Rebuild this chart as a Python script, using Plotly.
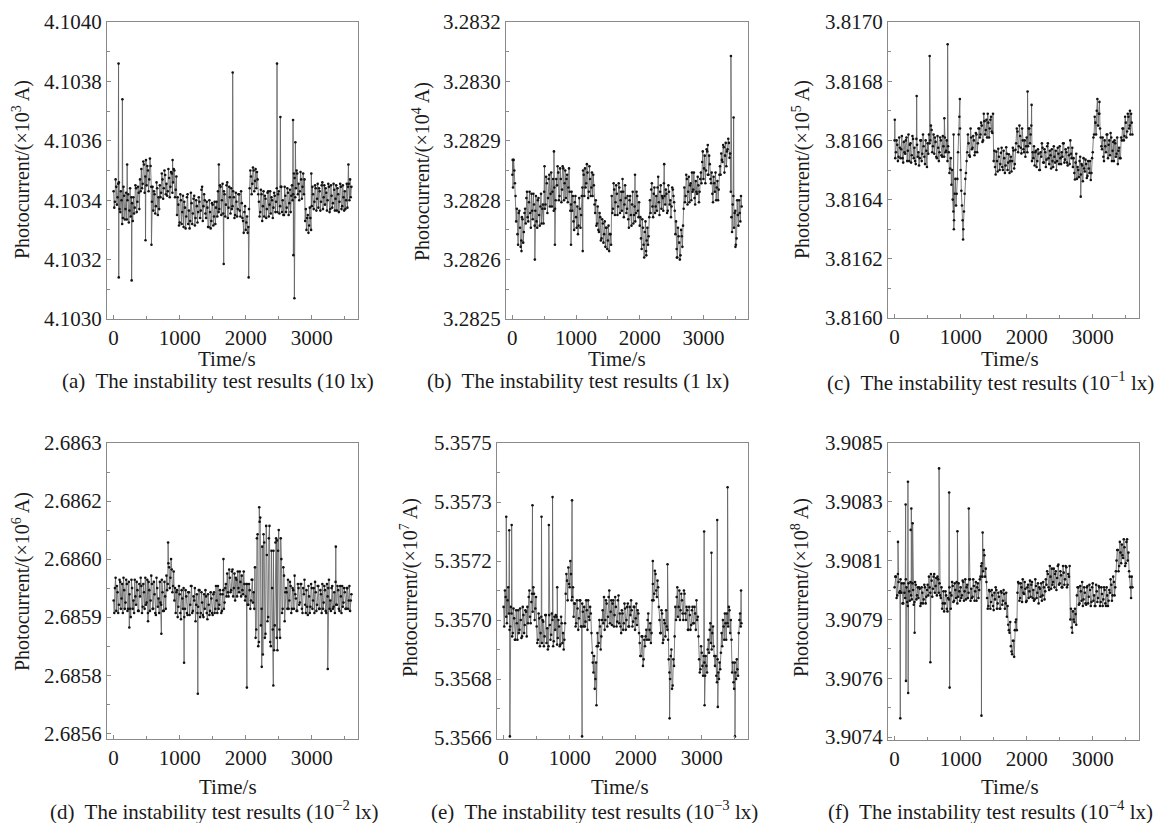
import plotly.graph_objects as go

STEP = 20  # seconds between samples in each list; second list is offset by 10 s
FONT = "Liberation Serif, Times New Roman, serif"

# ---------------- (a) 10 lx, offsets from 4.1030 in 1e-6 ----------------
a_base = 4.1030
a_off = [430, 395, 445, 410, 460,
         360, 400, 340, 415, 370, 335, 420, 365, 345, 390,
         410, 375, 440, 395, 425,
         470, 505, 455, 520, 480, 450, 500, 470, 515,
         395, 365, 420, 380, 440, 410,
         450, 425, 470, 440, 485, 455, 430, 475, 445, 490, 460, 500, 435,
         350, 385, 325, 400, 360, 310, 375, 345, 420, 365, 330, 390, 355, 415, 340, 380, 360,
         395, 365, 445, 380, 400,
         340, 375, 310, 360, 330, 385, 345, 320,
         395, 430, 370, 445, 400, 355, 420, 385, 460, 375, 410, 440,
         380, 410, 350, 395, 370, 420, 345, 390,
         330, 360, 300, 345, 310,
         440, 480, 455, 500, 465, 440, 470,
         395, 360, 420, 380, 345, 405, 370, 430, 385, 355, 400, 375, 415,
         395, 360, 430, 380, 445, 400, 350, 415, 375, 425, 390, 360,
         450, 420, 475, 440, 490, 455, 430, 470, 445, 420,
         330, 300, 350, 315, 340,
         380, 420, 395, 440, 405, 375, 430, 395, 460, 410, 385, 425, 400, 445, 370, 415,
         390, 435, 405, 365, 420, 395, 445, 380, 410, 430, 400, 375, 455, 470, 445]
a_off_mid = [375, 470, 385, 455, 370,
             430, 320, 445, 335, 425, 400, 325, 440, 410, 330,
             355, 450, 360, 445, 370,
             430, 440, 530, 425, 535, 515, 430, 540, 445,
             445, 430, 355, 460, 350, 370,
             410, 490, 405, 500, 420, 415, 505, 410, 495, 425, 505, 410, 480,
             410, 315, 420, 320, 415, 395, 305, 410, 320, 305, 425, 320, 405, 315, 400, 325, 410,
             340, 435, 330, 420, 355,
             395, 310, 400, 305, 390, 315, 395, 375,
             345, 360, 450, 350, 455, 430, 345, 450, 340, 445, 355, 370,
             430, 340, 425, 345, 420, 365, 430, 340,
             290, 380, 325, 290, 370,
             500, 420, 510, 430, 505, 495, 420,
             345, 435, 330, 430, 415, 340, 425, 345, 430, 410, 340, 425, 360,
             440, 420, 355, 445, 360, 350, 445, 360, 440, 350, 435, 415,
             400, 490, 410, 500, 420, 400, 495, 405, 490, 470,
             370, 340, 290, 375, 300,
             445, 370, 450, 365, 455, 440, 365, 450, 370, 450, 440, 365, 455, 360, 450,
             375, 455, 365, 450, 440, 360, 455, 370, 450, 365, 370, 455, 445, 400, 410]
a_spk_t = [75, 78, 133, 205, 273, 483, 573, 893, 1593, 1667, 1803, 2045, 2474, 2525,
           2717, 2722, 2737, 2752, 2993, 3555]
a_spk_v = [860, 140, 740, 520, 130, 265, 250, 535, 520, 185, 830, 140, 860, 680,
           670, 215, 70, 595, 490, 520]

# ---------------- (b) 1 lx, offsets from 3.2825 in 1e-6 ----------------
b_base = 3.2825
b_off = [340, 375, 320,
         230, 200, 250, 215, 185, 235, 205,
         260, 285, 240, 275, 250, 295, 235, 270,
         255, 230, 280, 245, 265, 225, 270,
         300, 270, 320, 285, 340, 295, 265, 330, 310, 280,
         315, 345, 290, 330, 305, 355, 320, 285, 340, 310, 300, 270,
         255, 230, 275, 240, 265, 220, 260, 245,
         310, 340, 355, 320, 345, 300, 330, 310, 290, 315,
         250, 220, 265, 205, 240, 190, 225, 200, 170, 215, 185, 160, 200,
         290, 260, 305, 275, 295, 265, 310, 280, 255, 300, 270, 285,
         260, 235, 280, 245, 270, 225, 265, 250, 290, 240,
         220, 190, 235, 175, 205, 160, 215, 195,
         280, 305, 265, 295, 250, 290, 310, 275, 300, 260,
         285, 320, 270, 295, 255, 300, 280, 265, 305, 275,
         200, 165, 215, 180, 150, 195, 220,
         310, 290, 330, 300, 275, 320, 345, 305, 285, 325, 295, 315, 300,
         345, 370, 330, 385, 350, 395, 340, 365,
         320, 295, 335, 300, 280, 325, 305,
         360, 390, 370, 405, 385, 360, 400, 415, 390,
         240, 270, 215, 255, 190, 245, 280, 230, 265]
b_off_mid = [310, 350, 290,
             260, 175, 255, 170, 240, 180, 250,
             225, 300, 230, 300, 215, 255, 295, 220,
             290, 215, 285, 220, 295, 260, 225,
             260, 335, 250, 330, 265, 345, 300, 255, 260, 330,
             360, 280, 355, 275, 360, 280, 350, 330, 275, 355, 255, 300,
             290, 210, 290, 215, 200, 285, 215, 290,
             350, 290, 310, 365, 285, 360, 290, 345, 340, 270,
             280, 225, 210, 250, 185, 235, 180, 230, 215, 165, 220, 200, 175,
             250, 320, 245, 315, 245, 320, 250, 300, 330, 240, 315, 250,
             290, 215, 290, 220, 300, 245, 230, 300, 255, 275,
             240, 165, 215, 145, 230, 185, 175, 240,
             250, 320, 240, 310, 265, 255, 335, 245, 315, 290,
             255, 290, 305, 250, 315, 270, 240, 310, 290, 255,
             230, 145, 195, 140, 210, 170, 260,
             275, 340, 270, 335, 315, 280, 300, 345, 270, 300, 335, 275, 330,
             320, 395, 355, 320, 400, 340, 385, 330,
             345, 275, 320, 345, 310, 280, 340,
             340, 375, 410, 345, 415, 395, 425, 380, 300,
             205, 290, 250, 175, 280, 220, 250, 290]
b_spk_t = [5, 143, 353, 505, 653, 668, 921, 1105, 1926, 2103, 2384, 2583, 3068, 3432, 3474, 3503]
b_spk_v = [375, 160, 140, 360, 395, 175, 175, 160, 340, 150, 365, 145, 410, 620, 475, 170]

# ---------------- (c) 10^-1 lx, offsets from 3.8160 in 1e-6 ----------------
c_base = 3.8160
c_off = [600, 560, 585, 545, 575,
         570, 540, 595, 555, 610, 565, 530, 590, 550, 605,
         575, 520, 585, 560, 540, 600, 555, 580, 520, 565,
         590, 620, 600, 635, 580, 555, 595, 540, 575, 560,
         600, 545, 580, 610, 565,
         530, 560, 505,
         450, 400, 330, 470, 420,
         560, 680,
         500, 380, 300, 420, 490,
         560, 590, 545, 610, 575, 600, 560, 620, 590, 640,
         620, 650, 600, 665, 635, 610, 660, 640, 680, 625,
         530, 510, 562, 495, 545, 520, 575, 500, 540, 515, 555, 525, 490, 545, 530, 566, 520,
         590, 630, 580, 615, 556, 600,
         560, 545, 610, 580, 640, 620, 530,
         540, 515, 565, 530, 555, 500, 545, 575, 525, 560,
         535, 590, 520, 550, 570, 510, 545, 565, 530, 555,
         580, 520, 545, 590, 535, 560, 515, 550, 600, 540,
         510, 490, 525, 470, 500, 530, 485, 515, 540, 495, 520, 480, 505, 530, 490,
         560, 620, 660, 700, 650, 690, 610,
         570, 545, 600, 560, 620, 585, 550, 610, 565, 530, 590, 555, 520, 575, 540,
         600, 640, 615, 660, 630, 680, 650, 690, 620]
c_off_mid = [540, 600, 530, 610, 540,
             615, 525, 560, 600, 530, 620, 585, 525, 615, 540,
             530, 605, 545, 515, 600, 530, 620, 545, 600, 510,
             555, 590, 650, 560, 620, 610, 545, 615, 530, 610,
             550, 615, 545, 560, 600,
             580, 490, 540,
             500, 360, 420, 380, 470,
             620, 640,
             430, 330, 360, 470, 530,
             620, 550, 640, 570, 615, 550, 625, 560, 640, 610,
             660, 595, 690, 620, 670, 690, 610, 670, 630, 690,
             565, 485, 530, 572, 500, 558, 510, 565, 490, 577, 500, 553, 530, 495, 575, 505, 568,
             640, 560, 650, 575, 640, 570,
             600, 580, 560, 640, 590, 650, 560,
             580, 560, 510, 570, 500, 560, 590, 525, 570, 510,
             580, 540, 565, 505, 530, 580, 525, 500, 575, 520,
             540, 560, 590, 525, 570, 525, 575, 520, 555, 575,
             540, 468, 555, 510, 476, 545, 520, 462, 505, 535, 473, 530, 490, 466, 540,
             610, 680, 620, 740, 690, 640, 580,
             610, 530, 580, 620, 540, 600, 625, 530, 595, 600, 545, 610, 565, 540, 610,
             640, 600, 680, 610, 690, 640, 620, 660]
c_spk_t = [3, 334, 531, 753, 803, 893, 897, 988, 1037, 2013, 2074, 2818, 3101, 3563]
c_spk_v = [670, 750, 885, 675, 925, 620, 300, 740, 265, 765, 720, 410, 730, 700]

# ---------------- (d) 10^-2 lx, offsets from 2.6856 in 1e-6 ----------------
d_base = 2.6856
d_off = [320, 350, 295, 340, 310, 365, 325, 290, 345, 315, 360, 300, 335, 280, 350, 320, 370, 310, 345, 295,
         330, 355, 305, 340, 375, 315, 290, 345, 320, 360, 300, 335, 285, 350, 325, 365, 310, 340, 295, 330,
         380, 360, 400, 375, 395, 355,
         320, 290, 345, 305, 335, 275, 325, 350, 300, 330, 285, 340, 310, 355, 295, 320, 270, 335, 305, 345,
         290, 315, 280, 300, 330, 275, 310, 295, 325, 285, 340, 300, 320, 355, 310, 335, 295, 345, 315,
         360, 385, 330, 375, 345, 395, 350, 320, 370, 390, 340, 365, 380, 335, 360,
         330, 360, 310, 345, 320, 370, 340,
         400, 250, 480, 220, 520, 300, 190, 460, 240, 430, 280, 500, 210, 350, 440, 260, 470, 200, 490, 230,
         420, 300, 380, 340,
         340, 370, 320, 355, 300, 345, 380, 325, 295, 350, 315, 360, 290, 335, 310, 345, 285, 330, 305, 350,
         320, 290, 340, 310, 355, 300, 335, 360, 315, 345, 290, 330, 370, 320, 350, 300, 340, 365, 310, 345,
         295, 330, 355, 315, 340, 300, 350, 320, 295, 335]
d_off_mid = [290, 375, 355, 290, 370, 300, 360, 375, 300, 370, 295, 365, 300, 370, 300, 290, 330, 365, 295, 360,
             375, 290, 360, 300, 310, 370, 365, 295, 380, 300, 365, 290, 375, 305, 290, 315, 370, 295, 365, 300,
             345, 410, 350, 420, 340, 390,
             350, 340, 280, 355, 290, 345, 300, 280, 345, 290, 340, 285, 355, 290, 330, 350, 310, 290, 345, 280,
             340, 285, 335, 345, 290, 335, 285, 340, 290, 335, 290, 355, 290, 300, 345, 290, 335, 300, 350,
             330, 340, 395, 340, 390, 330, 385, 375, 330, 350, 390, 330, 345, 390, 320,
             360, 310, 360, 300, 370, 315, 300,
             230, 470, 210, 510, 260, 450, 480, 230, 500, 270, 470, 220, 440, 250, 200, 460, 230, 440, 250, 470,
             290, 400, 270, 350,
             300, 300, 365, 290, 350, 300, 335, 295, 360, 310, 360, 300, 350, 370, 290, 305, 355, 290, 360, 300,
             350, 365, 295, 355, 300, 345, 290, 300, 355, 295, 360, 350, 300, 295, 355, 305, 290, 310, 355, 300,
             355, 290, 305, 350, 300, 350, 300, 355, 320]
d_spk_t = [238, 521, 723, 825, 1067, 1275, 1663, 2018, 2205, 2243, 2418, 2473, 3242, 3364]
d_spk_v = [255, 270, 240, 460, 170, 95, 420, 110, 545, 160, 115, 465, 155, 450]

# ---------------- (e) 10^-3 lx, offsets from 5.3566 in 1e-6 ----------------
e_base = 5.3566
e_off = [400, 450, 370, 420, 380,
         340, 380, 320, 365, 300, 350, 390, 330, 360, 310, 375, 345, 385,
         400, 430, 370, 415, 385, 440, 395,
         340, 300, 365, 320, 290, 355, 310, 375, 335, 280, 345, 315, 360, 295, 330, 370, 305, 340, 285, 350,
         320, 300,
         440, 480, 520, 460, 500, 430,
         370, 410, 350, 395, 365, 420, 340, 385, 400, 355, 390, 420, 360, 380,
         260, 200, 150, 230,
         320, 290, 340, 310,
         390, 430, 360, 410, 370, 450, 385, 345, 420, 375, 400, 355, 435, 380, 320,
         380, 350, 395, 360, 410, 340, 375, 390, 355, 400, 365, 345, 380,
         290, 250, 310, 240, 280,
         330, 360, 300, 350, 320,
         470, 440, 500, 430, 460,
         360, 320, 380, 300, 350, 390, 330,
         240, 180, 270, 160, 220,
         400, 430, 370, 450, 390, 420, 360, 440,
         360, 390, 330, 375, 345, 400, 350, 380, 420, 370,
         240, 210, 260, 190, 230, 250, 200,
         300, 330, 290, 320, 280,
         220, 190, 240, 180, 210,
         320, 360, 300, 350, 380, 340, 390, 360,
         200, 170, 230, 180, 210,
         320, 380, 350]
e_off_mid = [340, 430, 350, 460, 330,
             400, 310, 395, 300, 390, 300, 320, 395, 305, 400, 320, 390, 310,
             350, 450, 350, 440, 460, 360, 430,
             290, 380, 280, 370, 360, 280, 375, 290, 270, 375, 300, 380, 280, 370, 375, 285, 360, 280, 370, 290,
             270, 350,
             500, 420, 470, 540, 420, 460,
             410, 340, 420, 330, 420, 340, 410, 340, 340, 420, 330, 370, 400, 320,
             230, 250, 180, 280,
             280, 360, 270, 360,
             350, 330, 420, 340, 430, 350, 420, 410, 340, 430, 340, 420, 350, 340, 390,
             330, 410, 330, 400, 340, 400, 420, 340, 400, 330, 410, 390, 320,
             250, 310, 220, 300, 310,
             300, 380, 330, 290, 420,
             420, 510, 450, 480, 400,
             320, 390, 290, 360, 310, 340, 300,
             200, 250, 150, 240, 310,
             360, 460, 400, 360, 440, 380, 450, 380,
             400, 330, 400, 330, 390, 350, 400, 330, 360, 310,
             200, 280, 220, 250, 190, 220, 270,
             260, 350, 270, 340, 250,
             250, 170, 200, 230, 260,
             280, 340, 380, 300, 350, 400, 320, 300,
             230, 150, 200, 240, 190,
             360, 340]
e_spk_t = [40, 86, 95, 122, 437, 574, 685, 741, 812, 1036, 1188, 1406, 2259, 2482, 2513,
           3036, 3043, 3147, 3234, 3243, 3391, 3503, 3595]
e_spk_v = [675, 634, 5, 650, 710, 675, 650, 735, 460, 725, 5, 100, 540, 530, 60,
           630, 100, 565, 665, 95, 765, 5, 450]

# ---------------- (f) 10^-4 lx, offsets from 3.9074 in 1e-6 ----------------
f_base = 3.9074
f_off = [560, 600, 530, 580, 545,
         540, 500, 575, 520, 560, 490, 545, 580, 515, 550, 505, 570, 530,
         520, 555, 500, 540, 515, 560, 525,
         570, 600, 540, 585, 555, 610, 565, 530, 590, 575,
         520, 480, 545, 500, 530, 470, 515, 540,
         530, 565, 510, 550, 580, 525, 545,
         560, 530, 580, 545, 515, 570, 540, 590, 555, 525, 565, 545, 510, 575, 550,
         600, 650, 620, 680, 630,
         520, 490, 545, 505, 530, 475, 515, 550, 500, 525, 480, 540, 510, 535, 500,
         450, 420, 390, 340, 310, 360, 400, 440,
         540, 575, 520, 560, 590, 535, 555, 510, 570, 545, 525, 580, 550, 515, 565, 540, 500, 555, 575, 530,
         560, 545,
         570, 610, 550, 600, 630, 580, 560, 620, 595, 645, 575, 605, 560, 615, 590, 635, 570, 600,
         440, 410, 470, 430, 460,
         530, 560, 500, 545, 580, 515, 540, 495, 565, 525, 550, 505, 575, 530, 490, 545, 520, 560, 505, 535,
         515, 550, 490, 530, 510,
         540, 570, 530, 580, 560,
         660, 700, 640, 690, 720, 670, 710, 650, 740, 690,
         600, 520, 560]
f_off_mid = [600, 520, 610, 540, 590,
             575, 500, 540, 590, 505, 575, 510, 530, 575, 495, 580, 515, 560,
             560, 490, 560, 500, 570, 500, 550,
             530, 560, 610, 525, 600, 540, 595, 600, 540, 530,
             560, 500, 470, 545, 480, 520, 560, 480,
             580, 505, 575, 520, 500, 575, 510,
             520, 585, 510, 590, 560, 520, 590, 510, 520, 590, 510, 580, 560, 520, 590,
             640, 600, 700, 600, 580,
             480, 550, 480, 550, 490, 540, 560, 480, 540, 480, 545, 495, 550, 480, 540,
             490, 400, 430, 320, 360, 300, 430, 400,
             580, 510, 575, 505, 540, 580, 505, 560, 520, 585, 570, 520, 510, 590, 520, 575, 560, 525, 510, 580,
             515, 590,
             620, 560, 640, 555, 570, 630, 610, 550, 640, 570, 620, 560, 640, 570, 640, 560, 610, 640,
             480, 390, 440, 480, 420,
             560, 495, 565, 510, 490, 560, 500, 560, 500, 570, 490, 560, 510, 490, 570, 505, 565, 490, 560, 490,
             560, 500, 560, 490, 550,
             590, 510, 600, 530, 620,
             700, 620, 730, 650, 680, 740, 640, 730, 660, 620,
             560, 600]
f_spk_t = [51, 86, 167, 172, 202, 205, 243, 253, 273, 303, 541, 673, 826, 833, 951, 1123, 1315, 1333]
f_spk_v = [730, 70, 870, 210, 955, 165, 775, 855, 800, 390, 280, 1005, 915, 185, 770, 855, 80, 765]

# ---------------- axis tick labels ----------------
a_ticks = [4.1030, 4.1032, 4.1034, 4.1036, 4.1038, 4.1040]
a_text = ["4.1030", "4.1032", "4.1034", "4.1036", "4.1038", "4.1040"]
b_ticks = [3.28250, 3.28264, 3.28278, 3.28292, 3.28306, 3.28320]
b_text = ["3.2825", "3.2826", "3.2828", "3.2829", "3.2830", "3.2832"]
c_ticks = [3.8160, 3.8162, 3.8164, 3.8166, 3.8168, 3.8170]
c_text = ["3.8160", "3.8162", "3.8164", "3.8166", "3.8168", "3.8170"]
d_ticks = [2.68560, 2.68574, 2.68588, 2.68602, 2.68616, 2.68630]
d_text = ["2.6856", "2.6858", "2.6859", "2.6860", "2.6862", "2.6863"]
e_ticks = [5.35660, 5.35678, 5.35696, 5.35714, 5.35732, 5.35750]
e_text = ["5.3566", "5.3568", "5.3570", "5.3572", "5.3573", "5.3575"]
f_ticks = [3.90740, 3.90762, 3.90784, 3.90806, 3.90828, 3.90850]
f_text = ["3.9074", "3.9076", "3.9079", "3.9081", "3.9083", "3.9085"]

x_ticks = [0, 1000, 2000, 3000]
x_text = ["0", "1000", "2000", "3000"]

captions = ["(a)  The instability test results (10 lx)",
            "(b)  The instability test results (1 lx)",
            "(c)  The instability test results (10<sup>−1</sup> lx)",
            "(d)  The instability test results (10<sup>−2</sup> lx)",
            "(e)  The instability test results (10<sup>−3</sup> lx)",
            "(f)  The instability test results (10<sup>−4</sup> lx)"]
ytitles = ["Photocurrent/(×10<sup>3</sup> A)", "Photocurrent/(×10<sup>4</sup> A)",
           "Photocurrent/(×10<sup>5</sup> A)", "Photocurrent/(×10<sup>6</sup> A)",
           "Photocurrent/(×10<sup>7</sup> A)", "Photocurrent/(×10<sup>8</sup> A)"]

# layout positions in page pixels
panels = [
    dict(base=a_base, off=a_off, mid=a_off_mid, st=a_spk_t, sv=a_spk_v, ticks=a_ticks, text=a_text,
         yr=[4.1030, 4.1040], px=(107, 358), py=(22, 319), title_xy=(22, 170),
         time_xy=(227, 359), cap_xy=(218, 381)),
    dict(base=b_base, off=b_off, mid=b_off_mid, st=b_spk_t, sv=b_spk_v, ticks=b_ticks, text=b_text,
         yr=[3.2825, 3.2832], px=(506, 748), py=(22, 319), title_xy=(422, 172),
         time_xy=(617, 359), cap_xy=(578, 381)),
    dict(base=c_base, off=c_off, mid=c_off_mid, st=c_spk_t, sv=c_spk_v, ticks=c_ticks, text=c_text,
         yr=[3.8160, 3.8170], px=(888, 1139), py=(22, 318), title_xy=(802, 170),
         time_xy=(1010, 359), cap_xy=(990, 381)),
    dict(base=d_base, off=d_off, mid=d_off_mid, st=d_spk_t, sv=d_spk_v, ticks=d_ticks, text=d_text,
         yr=[2.685586, 2.6863], px=(107, 358), py=(443, 739), title_xy=(21, 582),
         time_xy=(228, 787), cap_xy=(214, 810)),
    dict(base=e_base, off=e_off, mid=e_off_mid, st=e_spk_t, sv=e_spk_v, ticks=e_ticks, text=e_text,
         yr=[5.356597, 5.3575], px=(497, 748), py=(443, 739), title_xy=(409, 588),
         time_xy=(620, 787), cap_xy=(594, 810)),
    dict(base=f_base, off=f_off, mid=f_off_mid, st=f_spk_t, sv=f_spk_v, ticks=f_ticks, text=f_text,
         yr=[3.907389, 3.9085], px=(888, 1139), py=(443, 740), title_xy=(800, 588),
         time_xy=(1010, 787), cap_xy=(990, 810)),
]

PAD = 8  # the page body adds an 8 px margin around the figure
W, H = 1167 - PAD, 823 - PAD


def fx(px):
    return (px - PAD) / W


def fy(py):
    return 1 - (py - PAD) / H


fig = go.Figure()
annotations = []
TXT = "#1a1a1a"
FRAME = "#8a8a8a"

for k, p in enumerate(panels):
    n = k + 1
    pts = ([(i * STEP, v) for i, v in enumerate(p["off"])]
           + [(i * STEP + STEP // 2, v) for i, v in enumerate(p["mid"])]
           + list(zip(p["st"], p["sv"])))
    pts.sort(key=lambda q: q[0])
    xs = [q[0] for q in pts]
    ys = [p["base"] + q[1] * 1e-6 for q in pts]
    xa = "x" if n == 1 else f"x{n}"
    ya = "y" if n == 1 else f"y{n}"
    fig.add_trace(go.Scatter(
        x=xs, y=ys, mode="lines+markers", xaxis=xa, yaxis=ya,
        line=dict(color="#5e5e5e", width=0.8),
        marker=dict(color="#111111", size=2.6),
        showlegend=False, hoverinfo="skip"))

    ticks = p["ticks"]
    minor_vals = [(ticks[j] + ticks[j + 1]) / 2 for j in range(len(ticks) - 1)]
    xkey = "xaxis" if n == 1 else f"xaxis{n}"
    ykey = "yaxis" if n == 1 else f"yaxis{n}"
    fig.layout[xkey] = dict(
        domain=[fx(p["px"][0]), fx(p["px"][1])], anchor=ya, automargin=False,
        range=[-100, 3700], tickmode="array", tickvals=x_ticks, ticktext=x_text,
        ticks="inside", ticklen=4, tickcolor=FRAME, showgrid=False, zeroline=False,
        showline=True, linecolor=FRAME, linewidth=1, mirror=True,
        tickfont=dict(family=FONT, size=21, color=TXT),
        minor=dict(tickmode="array", tickvals=[500, 1500, 2500, 3500], ticks="inside",
                   ticklen=3, tickcolor=FRAME, showgrid=False))
    fig.layout[ykey] = dict(
        domain=[fy(p["py"][1]), fy(p["py"][0])], anchor=xa, automargin=False,
        range=p["yr"], tickmode="array", tickvals=ticks, ticktext=p["text"],
        ticks="inside", ticklen=4, tickcolor=FRAME, showgrid=False, zeroline=False,
        showline=True, linecolor=FRAME, linewidth=1, mirror=True,
        tickfont=dict(family=FONT, size=21, color=TXT),
        minor=dict(tickmode="array", tickvals=minor_vals, ticks="inside",
                   ticklen=3, tickcolor=FRAME, showgrid=False))

    tx, ty = p["title_xy"]
    annotations.append(dict(x=fx(tx), y=fy(ty), xref="paper", yref="paper",
                            text=ytitles[k], textangle=-90, showarrow=False,
                            xanchor="center", yanchor="middle",
                            font=dict(family=FONT, size=20, color=TXT)))
    mx, my = p["time_xy"]
    annotations.append(dict(x=fx(mx), y=fy(my), xref="paper", yref="paper",
                            text="Time/s", showarrow=False,
                            xanchor="center", yanchor="middle",
                            font=dict(family=FONT, size=21, color=TXT)))
    cx, cy = p["cap_xy"]
    annotations.append(dict(x=fx(cx), y=fy(cy), xref="paper", yref="paper",
                            text=captions[k], showarrow=False,
                            xanchor="center", yanchor="middle",
                            font=dict(family=FONT, size=21, color=TXT)))

fig.update_layout(width=W, height=H, margin=dict(l=0, r=0, t=0, b=0, autoexpand=False),
                  paper_bgcolor="white", plot_bgcolor="white",
                  annotations=annotations, showlegend=False)

fig.write_html("out.html")
